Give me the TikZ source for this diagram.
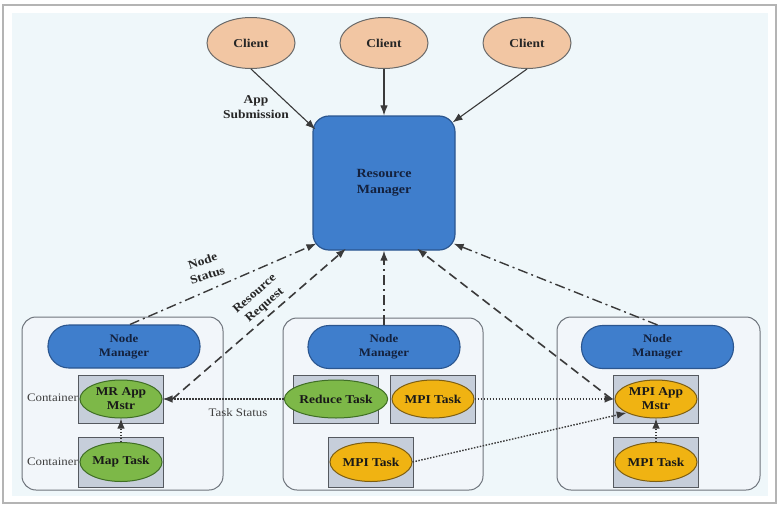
\documentclass[tikz,border=0pt]{standalone}
\usepackage{fontspec}
\setmainfont[FakeStretch=1.12]{Liberation Serif}
\usetikzlibrary{arrows.meta,shapes.geometric,calc}
\definecolor{bgblue}{HTML}{EFF7FA}
\definecolor{framegray}{HTML}{B4B4B4}
\definecolor{clientfill}{HTML}{F2C6A3}
\definecolor{clientdraw}{HTML}{6A6A6A}
\definecolor{rmfill}{HTML}{3F7ECC}
\definecolor{rmdraw}{HTML}{2B568F}
\definecolor{navytext}{HTML}{14213D}
\definecolor{nodebox}{HTML}{F2F6FA}
\definecolor{nodedraw}{HTML}{6E747C}
\definecolor{contfill}{HTML}{C6CEDA}
\definecolor{contdraw}{HTML}{55595F}
\definecolor{greenfill}{HTML}{7DB848}
\definecolor{greendraw}{HTML}{3F6E25}
\definecolor{orangefill}{HTML}{F0B312}
\definecolor{orangedraw}{HTML}{7D5E12}
\definecolor{linecol}{HTML}{3A3A3A}
\newcommand\dgfont[2]{\fontsize{#1}{#2}\selectfont}
\tikzset{
  client/.style={ellipse, draw=clientdraw, fill=clientfill, line width=1pt,
    minimum width=88pt, minimum height=51pt, inner sep=0pt,
    font=\dgfont{12}{14}\bfseries, text=black!85},
  rmbox/.style={rectangle, rounded corners=16pt, draw=rmdraw, fill=rmfill, line width=1.2pt,
    minimum width=142pt, minimum height=134pt, inner sep=0pt, align=center,
    font=\dgfont{12.5}{16}\bfseries, text=navytext},
  nodebg/.style={rectangle, rounded corners=14pt, draw=nodedraw, fill=nodebox, line width=1pt,
    inner sep=0pt},
  nmbox/.style={rectangle, rounded corners=21pt, draw=rmdraw, fill=rmfill, line width=1.1pt,
    minimum width=152pt, minimum height=43pt, inner sep=0pt, align=center,
    font=\dgfont{11.5}{14}\bfseries, text=navytext},
  contbox/.style={rectangle, draw=contdraw, fill=contfill, line width=1pt,
    minimum width=85pt, inner sep=0pt},
  task/.style={ellipse, line width=1pt, minimum width=82pt, minimum height=38pt,
    inner sep=0pt, align=center, font=\dgfont{12}{14}\bfseries, text=black!90},
  greentask/.style={task, draw=greendraw, fill=greenfill},
  orangetask/.style={task, draw=orangedraw, fill=orangefill},
  lbl/.style={font=\dgfont{12}{15}\bfseries, text=black!85, align=center, inner sep=0pt},
  plainlbl/.style={font=\dgfont{11.5}{14}, text=black!75, inner sep=0pt},
  solidarrow/.style={draw=linecol, line width=1.1pt, -{Latex[length=10pt,width=7.5pt]}},
  dashdotarrow/.style={draw=linecol, line width=1.4pt, dash pattern=on 10pt off 4pt on 2pt off 4pt,
    -{Latex[length=10pt,width=7.5pt]}},
  dashedarrow/.style={draw=linecol, line width=1.6pt, dash pattern=on 9pt off 5pt,
    -{Latex[length=10pt,width=7.5pt]}},
  dottedarrow/.style={draw=linecol, line width=1.4pt, dash pattern=on 1.5pt off 1.5pt,
    -{Latex[length=10pt,width=7.5pt]}},
}
\begin{document}
\begin{tikzpicture}[x=1pt,y=-1pt]
\useasboundingbox (0,0) rectangle (781,506);
\fill[white] (0,0) rectangle (781,506);
\fill[bgblue] (12,13) rectangle (768,496);
\draw[framegray, line width=1.2pt] (3,5) rectangle (776,503);

% clients and resource manager
\node[client] (c1) at (251,43) {Client};
\node[client] (c2) at (384,43) {Client};
\node[client] (c3) at (527,43) {Client};
\node[rmbox] (rm) at (384,183) {Resource\\Manager};

% node boxes
\node[nodebg, minimum width=201pt, minimum height=173pt] (n1) at (122.5,403.5) {};
\node[nodebg, minimum width=200pt, minimum height=172pt] (n2) at (383,404) {};
\node[nodebg, minimum width=203pt, minimum height=173pt] (n3) at (658.5,403.5) {};

\node[nmbox] (nm1) at (124,346.5) {Node\\Manager};
\node[nmbox] (nm2) at (384,347) {Node\\Manager};
\node[nmbox] (nm3) at (657.5,347) {Node\\Manager};

% containers
\node[contbox, minimum height=48pt] (k1) at (120.5,399) {};
\node[contbox, minimum height=50pt] (k2) at (120.5,462) {};
\node[contbox, minimum height=48pt] (k3) at (335.5,399) {};
\node[contbox, minimum height=48pt] (k4) at (433,399) {};
\node[contbox, minimum height=50pt] (k5) at (371,462) {};
\node[contbox, minimum height=48pt] (k6) at (655.5,399) {};
\node[contbox, minimum height=50pt] (k7) at (655.5,462) {};

\node[greentask] (mr) at (121,399) {MR App\\Mstr};
\node[greentask, minimum height=39pt] (map) at (121,462) {Map Task};
\node[greentask] (red) at (336,399) {Reduce Task};
\node[orangetask] (mpt1) at (433,399) {MPI Task};
\node[orangetask, minimum height=39pt] (mpt2) at (371,462) {MPI Task};
\node[orangetask] (mam) at (656,399) {MPI App\\Mstr};
\node[orangetask, minimum height=39pt] (mpt3) at (656,462) {MPI Task};

\node[plainlbl, anchor=east] (cl1) at (78,398) {Container};
\node[plainlbl, anchor=east] (cl2) at (78,462) {Container};

% labels
\node[lbl] (appsub) at (256,107) {App\\Submission};
\node[lbl, rotate=18] (nstat) at (205,268) {Node\\Status};
\node[lbl, rotate=41] (rreq) at (260,300) {Resource\\Request};
\node[plainlbl] (tstat) at (238,413) {Task Status};

% client submissions
\draw[solidarrow] (c1.south) -- ([shift={(3,14)}]rm.north west);
\draw[solidarrow] (c2.south) -- (rm.north);
\draw[solidarrow] (c3.south) -- ([shift={(-3,7)}]rm.north east);

% node status
\draw[dashdotarrow] ([xshift=6pt]nm1.north) -- ([shift={(4,-7)}]rm.south west);
\draw[dashdotarrow] (nm2.north) -- (rm.south);
\draw[dashdotarrow] (nm3.north) -- ([shift={(-2,-7)}]rm.south east);

% resource requests
\draw[dashedarrow] ([xshift=10pt]mr.east) -- ([shift={(-38,-2)}]rm.south);
\draw[dashedarrow] ([xshift=-3pt]mam.west) -- ([shift={(33,-2)}]rm.south);

% task status
\draw[dottedarrow] (red.west) -- (mr.east);
\draw[dottedarrow] (mpt1.east) -- (mam.west);
\draw[dottedarrow] (mpt2.east) -- (mam.south west);
\draw[dottedarrow] (map.north) -- (mr.south);
\draw[dottedarrow] (mpt3.north) -- (mam.south);
\end{tikzpicture}
\end{document}
